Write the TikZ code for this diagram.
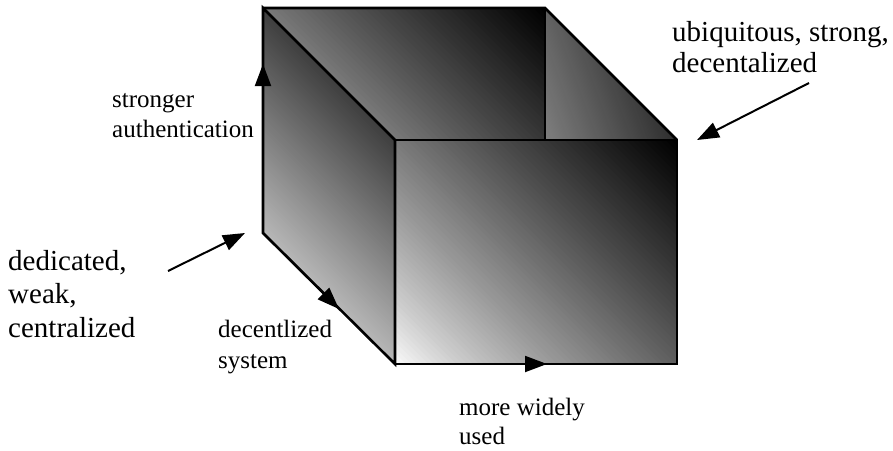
\documentclass[tikz,border=0pt]{standalone}
\usepackage{fontspec}
\setmainfont{Liberation Serif}
\usetikzlibrary{arrows.meta}
\tikzset{
  edge/.style={line width=2.6pt, line join=miter},
  arr/.style={-{Triangle[length=22pt,width=16pt]}, line width=2pt},
  big/.style={font=\fontsize{29}{33}\selectfont, inner sep=0pt, anchor=base west},
  small/.style={font=\fontsize{25}{30}\selectfont, inner sep=0pt, anchor=base west},
}
% #1 centre, #2 direction angle (canvas), #3 t start, #4 t end,
% #5 black% at start, #6 black% at end, #7 exponent of the ramp
\newcommand\facegrad[7]{%
  \begin{scope}[shift={#1}, rotate=#2]
    \pgfmathsetmacro\dstep{((#4)-(#3))/90}%
    \fill[black!#5] (-800,-600) rectangle (#3,600);
    \fill[black!#6] (#4,-600) rectangle (800,600);
    \foreach \i in {0,...,89}{%
      \pgfmathsetmacro\ta{(#3)+\i*\dstep}%
      \pgfmathsetmacro\tb{(#3)+(\i+1)*\dstep+0.8}%
      \pgfmathsetmacro\pc{(#5)+((#6)-(#5))*(((\i+0.5)/90)^(#7))}%
      \fill[black!\pc] (\ta,-600) rectangle (\tb,600);
    }
  \end{scope}}
\begin{document}
\begin{tikzpicture}[x=1pt,y=-1pt]
\useasboundingbox (0,0) rectangle (893,450);
\coordinate (A) at (263,8);
\coordinate (B) at (545,8);
\coordinate (C) at (545,140);
\coordinate (D) at (395,140);
\coordinate (E) at (677,140);
\coordinate (F) at (395,364);
\coordinate (G) at (677,364);
\coordinate (H) at (263,233);
% back wall
\begin{scope}
  \clip (A) -- (B) -- (C) -- (D) -- cycle;
  \facegrad{(404,120.5)}{45}{-179}{179}{0}{100}{0.8}
\end{scope}
% right wall (visible part)
\begin{scope}
  \clip (B) -- (E) -- (C) -- cycle;
  \facegrad{(600,100)}{20}{-66}{59}{50}{82}{1}
\end{scope}
% left face
\begin{scope}
  \clip (A) -- (D) -- (F) -- (H) -- cycle;
  \facegrad{(329,186)}{-135}{-80}{80}{76}{28}{1}
\end{scope}
% front face
\begin{scope}
  \clip (D) rectangle (G);
  \facegrad{(536,252)}{45}{-179}{179}{0}{100}{0.8}
\end{scope}
% edges
\draw[edge] (A) -- (D) -- (F) -- (H) -- cycle;
\draw[edge] (D) -- (E) -- (G) -- (F) -- cycle;
\draw[edge] (A) -- (B) -- (E);
\draw[edge] (B) -- (C);
% axis arrows
\coordinate (upTip) at (263,64);
\coordinate (diagTip) at (339,309);
\coordinate (botTip) at (547,364);
\draw[arr] (H) -- (upTip);
\draw[arr] (H) -- (diagTip);
\draw[arr] (F) -- (botTip);
% labels
\node[big] (ded1) at (8,270) {dedicated,};
\node[big] (ded2) at (8,303) {weak,};
\node[big] (ded3) at (8,337) {centralized};
\node[big] (ubi1) at (672,41) {ubiquitous, strong,};
\node[big] (ubi2) at (672,72) {decentalized};
\node[small] (str1) at (112,107) {stronger};
\node[small] (str2) at (112,137) {authentication};
\node[small] (dec1) at (218,337) {decentlized};
\node[small] (dec2) at (218,368) {system};
\node[small] (mor1) at (459,415) {more widely};
\node[small] (mor2) at (459,444) {used};
% pointer arrows
\coordinate (dedTail) at (168,271);
\coordinate (dedTip) at (245,233);
\coordinate (ubiTail) at (809,83);
\coordinate (ubiTip) at (697,140);
\draw[arr] (dedTail) -- (dedTip);
\draw[arr] (ubiTail) -- (ubiTip);
\end{tikzpicture}
\end{document}
